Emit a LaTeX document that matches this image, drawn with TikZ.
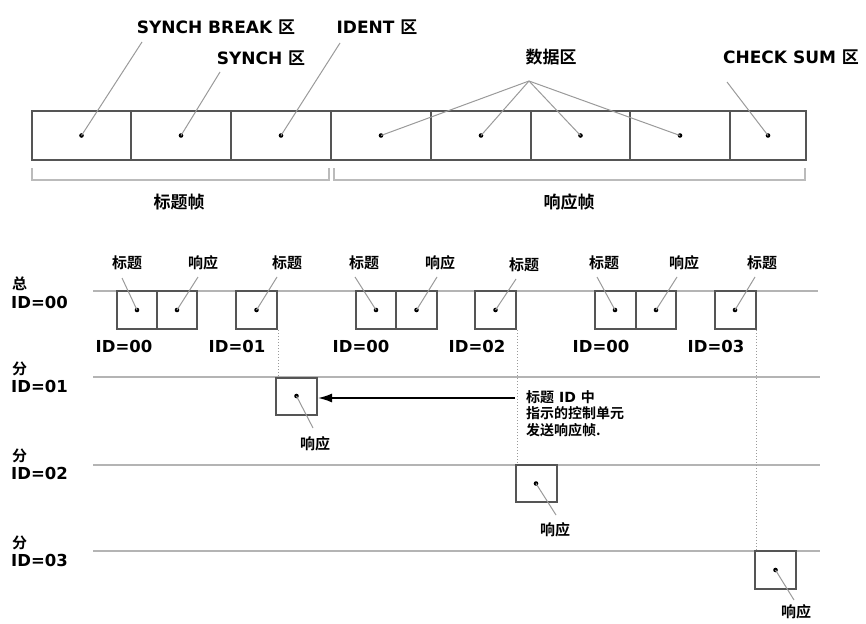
\documentclass[tikz,border=0pt]{standalone}
\usepackage{fontspec}
\setmainfont{DejaVu Sans}
\newfontfamily\zhfont{Noto Sans CJK SC}[BoldFont={Noto Sans CJK SC Bold}]
\newcommand{\zh}[1]{{\zhfont\bfseries #1}}
\usetikzlibrary{arrows.meta,calc}
\definecolor{boxgray}{HTML}{555555}
\definecolor{leadgray}{HTML}{9A9A9A}
\definecolor{busgray}{HTML}{B4B4B4}
\definecolor{brkgray}{HTML}{BBBBBB}
\begin{document}
\begin{tikzpicture}[x=1pt,y=-1pt,
  cell/.style={draw=boxgray, line width=1.6pt, minimum height=49pt, inner sep=0pt},
  fbox/.style={draw=boxgray, line width=2pt, minimum width=41pt, minimum height=38pt, inner sep=0pt},
  dot/.style={circle, fill=black, inner sep=0pt, minimum size=4.6pt},
  leader/.style={draw=leadgray, line width=1pt},
  bus/.style={draw=busgray, line width=2pt},
  brk/.style={draw=brkgray, line width=1.5pt},
  vdot/.style={draw=leadgray, line width=1pt, dotted},
  toplbl/.style={font=\fontsize{17}{20}\selectfont\bfseries, inner sep=0pt},
  smlbl/.style={font=\fontsize{15}{17}\selectfont\bfseries, inner sep=0pt},
  idlbl/.style={font=\fontsize{16.5}{18}\selectfont\bfseries, inner sep=0pt},
  arr/.style={draw=black, line width=1.6pt, -{Latex[length=14pt,width=9pt]}}
]
\useasboundingbox (0,0) rectangle (866,623);

% ---------- top frame ----------
\node[cell, minimum width=99pt]  (c1) at (81.5,135.5) {};
\node[cell, minimum width=100pt] (c2) at (181,135.5) {};
\node[cell, minimum width=100pt] (c3) at (281,135.5) {};
\node[cell, minimum width=100pt] (c4) at (381,135.5) {};
\node[cell, minimum width=100pt] (c5) at (481,135.5) {};
\node[cell, minimum width=99pt]  (c6) at (580.5,135.5) {};
\node[cell, minimum width=100pt] (c7) at (680,135.5) {};
\node[cell, minimum width=76pt]  (c8) at (768,135.5) {};
\foreach \i in {1,...,8} { \node[dot] (d\i) at (c\i) {}; }

\node[toplbl] (lsb) at (216,27) {SYNCH BREAK \zh{区}};
\node[toplbl] (lid) at (377,27) {IDENT \zh{区}};
\node[toplbl] (lsy) at (261,58) {SYNCH \zh{区}};
\node[toplbl] (lda) at (551,57) {\zh{数据区}};
\node[toplbl] (lcs) at (791,57) {CHECK SUM \zh{区}};

\coordinate (psb) at (142,42);
\coordinate (psy) at (220,72);
\coordinate (pid) at (340,43);
\coordinate (pda) at (529,81);
\coordinate (pcs) at (727,82);
\draw[leader] (psb) -- (d1.center);
\draw[leader] (psy) -- (d2.center);
\draw[leader] (pid) -- (d3.center);
\draw[leader] (pda) -- (d4.center);
\draw[leader] (pda) -- (d5.center);
\draw[leader] (pda) -- (d6.center);
\draw[leader] (pda) -- (d7.center);
\draw[leader] (pcs) -- (d8.center);

\draw[brk] (32,168) -- (32,180) -- (329,180) -- (329,168);
\draw[brk] (334,168) -- (334,180) -- (805,180) -- (805,168);
\node[toplbl] (hf) at (179,202) {\zh{标题帧}};
\node[toplbl] (rf) at (569,202) {\zh{响应帧}};

% ---------- bus lines ----------
\draw[bus] (93,291) -- (818,291);
\draw[bus] (93,377) -- (820,377);
\draw[bus] (93,465) -- (820,465);
\draw[bus] (93,551) -- (820,551);

\node[smlbl, anchor=west] (z0) at (12,284) {\zh{总}};
\node[idlbl, anchor=west] (i0) at (11,302) {ID=00};
\node[smlbl, anchor=west] (z1) at (12,369) {\zh{分}};
\node[idlbl, anchor=west] (i1) at (11,386) {ID=01};
\node[smlbl, anchor=west] (z2) at (12,456) {\zh{分}};
\node[idlbl, anchor=west] (i2) at (11,473) {ID=02};
\node[smlbl, anchor=west] (z3) at (12,543) {\zh{分}};
\node[idlbl, anchor=west] (i3) at (11,560) {ID=03};

% ---------- frames on the bus ----------
\node[fbox, minimum width=40pt] (h1) at (137,310) {};
\node[fbox, minimum width=40pt] (h2) at (177,310) {};
\node[fbox] (h3) at (256.5,310) {};
\node[fbox, minimum width=40pt] (h4) at (376,310) {};
\node[fbox] (h5) at (416.5,310) {};
\node[fbox] (h6) at (495.5,310) {};
\node[fbox] (h7) at (615,310) {};
\node[fbox, minimum width=40pt] (h8) at (656,310) {};
\node[fbox] (h9) at (735,310) {};
\node[fbox, minimum height=37pt] (r1) at (296.5,396) {};
\node[fbox, minimum height=37pt] (r2) at (536,483.5) {};
\node[fbox, minimum height=38pt] (r3) at (775.5,570) {};
\foreach \n in {h1,h2,h3,h4,h5,h6,h7,h8,h9,r1,r2,r3} { \node[dot] (p\n) at (\n) {}; }

% labels above
\node[smlbl] (a1) at (127,263) {\zh{标题}};
\node[smlbl] (a2) at (203,263) {\zh{响应}};
\node[smlbl] (a3) at (287,263) {\zh{标题}};
\node[smlbl] (a4) at (364,263) {\zh{标题}};
\node[smlbl] (a5) at (440,263) {\zh{响应}};
\node[smlbl] (a6) at (524,265) {\zh{标题}};
\node[smlbl] (a7) at (604,263) {\zh{标题}};
\node[smlbl] (a8) at (684,263) {\zh{响应}};
\node[smlbl] (a9) at (762,263) {\zh{标题}};
\coordinate (s1) at (122,278);
\coordinate (s2) at (198,277);
\coordinate (s3) at (277,277);
\coordinate (s4) at (355,277);
\coordinate (s5) at (437,277);
\coordinate (s6) at (516,279);
\coordinate (s7) at (597,277);
\coordinate (s8) at (677,277);
\coordinate (s9) at (755,277);
\draw[leader] (s1) -- (ph1.center);
\draw[leader] (s2) -- (ph2.center);
\draw[leader] (s3) -- (ph3.center);
\draw[leader] (s4) -- (ph4.center);
\draw[leader] (s5) -- (ph5.center);
\draw[leader] (s6) -- (ph6.center);
\draw[leader] (s7) -- (ph7.center);
\draw[leader] (s8) -- (ph8.center);
\draw[leader] (s9) -- (ph9.center);

% ID labels below
\node[idlbl] (b1) at (124,346) {ID=00};
\node[idlbl] (b2) at (237,346) {ID=01};
\node[idlbl] (b3) at (361,346) {ID=00};
\node[idlbl] (b4) at (477,346) {ID=02};
\node[idlbl] (b5) at (601,346) {ID=00};
\node[idlbl] (b6) at (716,346) {ID=03};

% dotted drop lines
\draw[vdot] (h3.south east) -- (h3.south east |- r1.north);
\draw[vdot] (h6.south east) -- (h6.south east |- r2.north);
\draw[vdot] (h9.south east) -- (h9.south east |- r3.north);

% responses labels
\node[smlbl] (q1) at (315,444) {\zh{响应}};
\node[smlbl] (q2) at (555,530) {\zh{响应}};
\node[smlbl] (q3) at (796,612) {\zh{响应}};
\coordinate (e1) at (313,428);
\coordinate (e2) at (556,515);
\coordinate (e3) at (794,600);
\draw[leader] (pr1.center) -- (e1);
\draw[leader] (pr2.center) -- (e2);
\draw[leader] (pr3.center) -- (e3);

% arrow and note
\coordinate (ae) at (515,398);
\draw[arr] (ae) -- (r1.east |- ae);
\node[anchor=north west, align=left, inner sep=0pt,
  font=\fontsize{14}{16.5}\selectfont\bfseries] (note) at (526,390)
  {\zh{标题} ID \zh{中}\\\zh{指示的控制单元}\\\zh{发送响应帧.}};
\end{tikzpicture}
\end{document}
